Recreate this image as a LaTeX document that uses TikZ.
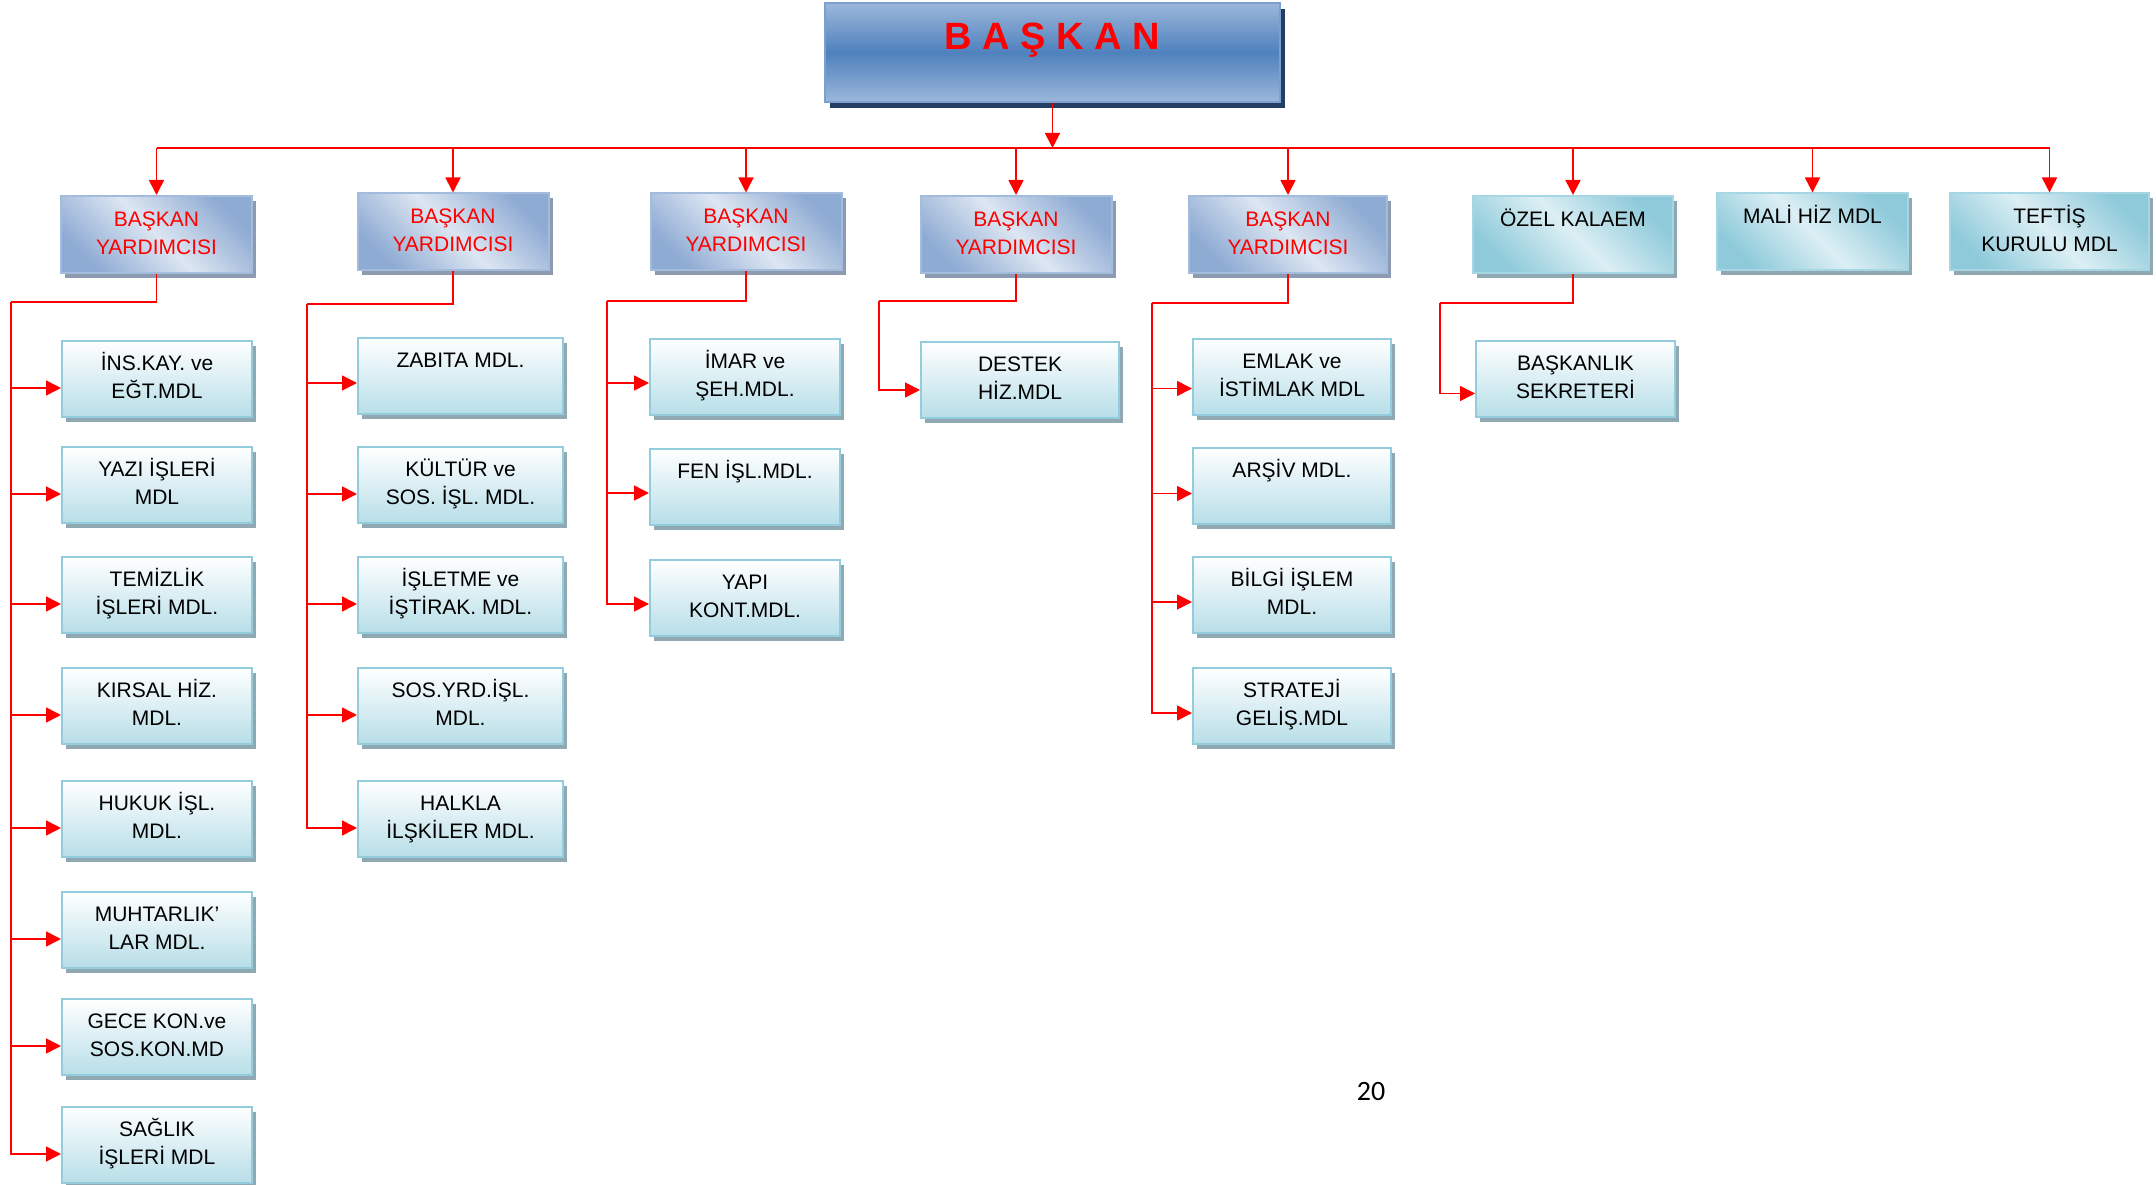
\documentclass[tikz,border=0pt]{standalone}
\usepackage{fontspec}
\setmainfont{Liberation Sans}
\newfontfamily\pagefont{Carlito}
\usepackage{tikz}
\usetikzlibrary{arrows.meta,shadows}

\definecolor{topdark}{HTML}{4F81BD}
\definecolor{toplight}{HTML}{9BB7DA}
\definecolor{topedge}{HTML}{7C9FD0}
\definecolor{topshadow}{HTML}{233E62}
\definecolor{hdrdark}{HTML}{8EABD3}
\definecolor{hdrlight}{HTML}{DDE6F2}
\definecolor{hdredge}{HTML}{A3BCDE}
\definecolor{hdrshadow}{HTML}{8C9BAF}
\definecolor{tealdark}{HTML}{8FCADA}
\definecolor{teallight}{HTML}{DCEFF4}
\definecolor{tealedge}{HTML}{A6D6E3}
\definecolor{subbot}{HTML}{B7DEE8}
\definecolor{subedge}{HTML}{93CDDD}
\definecolor{subshadow}{HTML}{8FA8B2}
\definecolor{linkred}{HTML}{FF0000}

\newcommand{\orgfont}{\fontsize{21}{28}\selectfont}
\newcommand{\twoline}[2]{\strut#1\\\strut#2}

\begin{document}
\begin{tikzpicture}[x=1pt,y=-1pt]
            \tikzset{
                bskbox/.style={draw=topedge, line width=2pt, minimum width=455pt, minimum height=99pt, inner sep=0pt,
                    top color=toplight, bottom color=toplight, middle color=topdark,
                    drop shadow={shadow xshift=5pt, shadow yshift=-6pt, fill=topshadow, opacity=1},
                    text=linkred, font=\fontsize{38}{40}\selectfont\bfseries, text height=27pt, text depth=32pt},
                hdr/.style={draw=hdredge, line width=2pt, minimum width=191pt, minimum height=77pt, inner sep=0pt,
                    align=center, font=\orgfont, text=linkred,
                    top color=hdrdark, bottom color=hdrdark, middle color=hdrlight, shading angle=-45,
                    drop shadow={shadow xshift=4pt, shadow yshift=-5pt, fill=hdrshadow, opacity=1}},
                teal/.style={hdr, draw=tealedge, text=black,
                    top color=tealdark, bottom color=tealdark, middle color=teallight, shading angle=-45,
                    drop shadow={shadow xshift=4pt, shadow yshift=-5pt, fill=subshadow, opacity=1}},
                sub/.style={draw=subedge, line width=2pt, minimum width=190pt, minimum height=76pt, inner sep=0pt,
                    align=center, font=\orgfont, top color=white, bottom color=subbot,
                    drop shadow={shadow xshift=4pt, shadow yshift=-5pt, fill=subshadow, opacity=1}},
                link/.style={draw=linkred, line width=1.6pt},
                edge/.style={link, -{Triangle[length=15pt,width=15pt]}}
            }
            \useasboundingbox (0,0) rectangle (2156,1185);

            % vertices
            \node[bskbox] (bsk) at (1052.5,52.5) {B A Ş K A N};

            \node[hdr] (by1) at (156.5,234.5) {\twoline{BAŞKAN}{YARDIMCISI}};
            \node[hdr] (by2) at (453,232) {\twoline{BAŞKAN}{YARDIMCISI}};
            \node[hdr] (by3) at (746,232) {\twoline{BAŞKAN}{YARDIMCISI}};
            \node[hdr] (by4) at (1016,234.5) {\twoline{BAŞKAN}{YARDIMCISI}};
            \node[hdr, minimum width=198pt] (by5) at (1288,234.5) {\twoline{BAŞKAN}{YARDIMCISI}};
            \node[teal, minimum width=200pt] (ozel) at (1573,234.5) {\twoline{ÖZEL KALAEM}{}};
            \node[teal] (mali) at (1812.5,232) {\twoline{MALİ HİZ MDL}{}};
            \node[teal, minimum width=199pt] (teftis) at (2049.5,232) {\twoline{TEFTİŞ}{KURULU MDL}};

            \node[sub] (c11) at (157,379) {\twoline{İNS.KAY. ve}{EĞT.MDL}};
            \node[sub] (c12) at (157,485) {\twoline{YAZI İŞLERİ}{MDL}};
            \node[sub] (c13) at (157,595) {\twoline{TEMİZLİK}{İŞLERİ MDL.}};
            \node[sub] (c14) at (157,706) {\twoline{KIRSAL HİZ.}{MDL.}};
            \node[sub] (c15) at (157,819) {\twoline{HUKUK İŞL.}{MDL.}};
            \node[sub] (c16) at (157,930) {\twoline{MUHTARLIK’}{LAR MDL.}};
            \node[sub] (c17) at (157,1037) {\twoline{GECE KON.ve}{SOS.KON.MD}};
            \node[sub] (c18) at (157,1145) {\twoline{SAĞLIK}{İŞLERİ MDL}};

            \node[sub, minimum width=205pt] (c21) at (460.5,376) {\twoline{ZABITA MDL.}{}};
            \node[sub, minimum width=205pt] (c22) at (460.5,485) {\twoline{KÜLTÜR ve}{SOS. İŞL. MDL.}};
            \node[sub, minimum width=205pt] (c23) at (460.5,595) {\twoline{İŞLETME ve}{İŞTİRAK. MDL.}};
            \node[sub, minimum width=205pt] (c24) at (460.5,706) {\twoline{SOS.YRD.İŞL.}{MDL.}};
            \node[sub, minimum width=205pt] (c25) at (460.5,819) {\twoline{HALKLA}{İLŞKİLER MDL.}};

            \node[sub] (c31) at (745,377) {\twoline{İMAR ve}{ŞEH.MDL.}};
            \node[sub] (c32) at (745,487) {\twoline{FEN İŞL.MDL.}{}};
            \node[sub] (c33) at (745,598) {\twoline{YAPI}{KONT.MDL.}};

            \node[sub, minimum width=198pt] (c41) at (1020,380) {\twoline{DESTEK}{HİZ.MDL}};

            \node[sub, minimum width=198pt] (c51) at (1292,376.5) {\twoline{EMLAK ve}{İSTİMLAK MDL}};
            \node[sub, minimum width=198pt] (c52) at (1292,485.5) {\twoline{ARŞİV MDL.}{}};
            \node[sub, minimum width=198pt] (c53) at (1292,595) {\twoline{BİLGİ İŞLEM}{MDL.}};
            \node[sub, minimum width=198pt] (c54) at (1292,706) {\twoline{STRATEJİ}{GELİŞ.MDL}};

            \node[sub, minimum width=199pt] (c61) at (1575.5,378.5) {\twoline{BAŞKANLIK}{SEKRETERİ}};

            \node (pg) at (1371,1092) {\pagefont\fontsize{28}{30}\selectfont 20};

            \coordinate (bus) at (1052.5,148);
            \coordinate (t1) at (11,302);
            \coordinate (t2) at (307,304);
            \coordinate (t3) at (607,301);
            \coordinate (t4) at (879,301);
            \coordinate (t5) at (1152,303);
            \coordinate (t6) at (1440,303);

            %edges
            \draw[edge] (bsk) -- (bus);
            \draw[link] (by1 |- bus) -- (teftis |- bus);
            \draw[edge] (by1 |- bus) -- (by1);
            \draw[edge] (by2 |- bus) -- (by2);
            \draw[edge] (by3 |- bus) -- (by3);
            \draw[edge] (by4 |- bus) -- (by4);
            \draw[edge] (by5 |- bus) -- (by5);
            \draw[edge] (ozel |- bus) -- (ozel);
            \draw[edge] (mali |- bus) -- (mali);
            \draw[edge] (teftis |- bus) -- (teftis);

            \draw[link] (by1.south) |- (t1);
            \draw[edge] (t1) |- ([yshift=-9pt]c11.west);
            \draw[edge] (t1) |- ([yshift=-9pt]c12.west);
            \draw[edge] (t1) |- ([yshift=-9pt]c13.west);
            \draw[edge] (t1) |- ([yshift=-9pt]c14.west);
            \draw[edge] (t1) |- ([yshift=-9pt]c15.west);
            \draw[edge] (t1) |- ([yshift=-9pt]c16.west);
            \draw[edge] (t1) |- ([yshift=-9pt]c17.west);
            \draw[edge] (t1) |- ([yshift=-9pt]c18.west);

            \draw[link] (by2.south) |- (t2);
            \draw[edge] (t2) |- ([yshift=-7pt]c21.west);
            \draw[edge] (t2) |- ([yshift=-9pt]c22.west);
            \draw[edge] (t2) |- ([yshift=-9pt]c23.west);
            \draw[edge] (t2) |- ([yshift=-9pt]c24.west);
            \draw[edge] (t2) |- ([yshift=-9pt]c25.west);

            \draw[link] (by3.south) |- (t3);
            \draw[edge] (t3) |- ([yshift=-6pt]c31.west);
            \draw[edge] (t3) |- ([yshift=-6pt]c32.west);
            \draw[edge] (t3) |- ([yshift=-6pt]c33.west);

            \draw[link] (by4.south) |- (t4);
            \draw[edge] (t4) |- ([yshift=-10pt]c41.west);

            \draw[link] (by5.south) |- (t5);
            \draw[edge] (t5) |- ([yshift=-12pt]c51.west);
            \draw[edge] (t5) |- ([yshift=-8pt]c52.west);
            \draw[edge] (t5) |- ([yshift=-7pt]c53.west);
            \draw[edge] (t5) |- ([yshift=-7pt]c54.west);

            \draw[link] (ozel.south) |- (t6);
            \draw[edge] (t6) |- ([yshift=-15pt]c61.west);
\end{tikzpicture}
\end{document}
